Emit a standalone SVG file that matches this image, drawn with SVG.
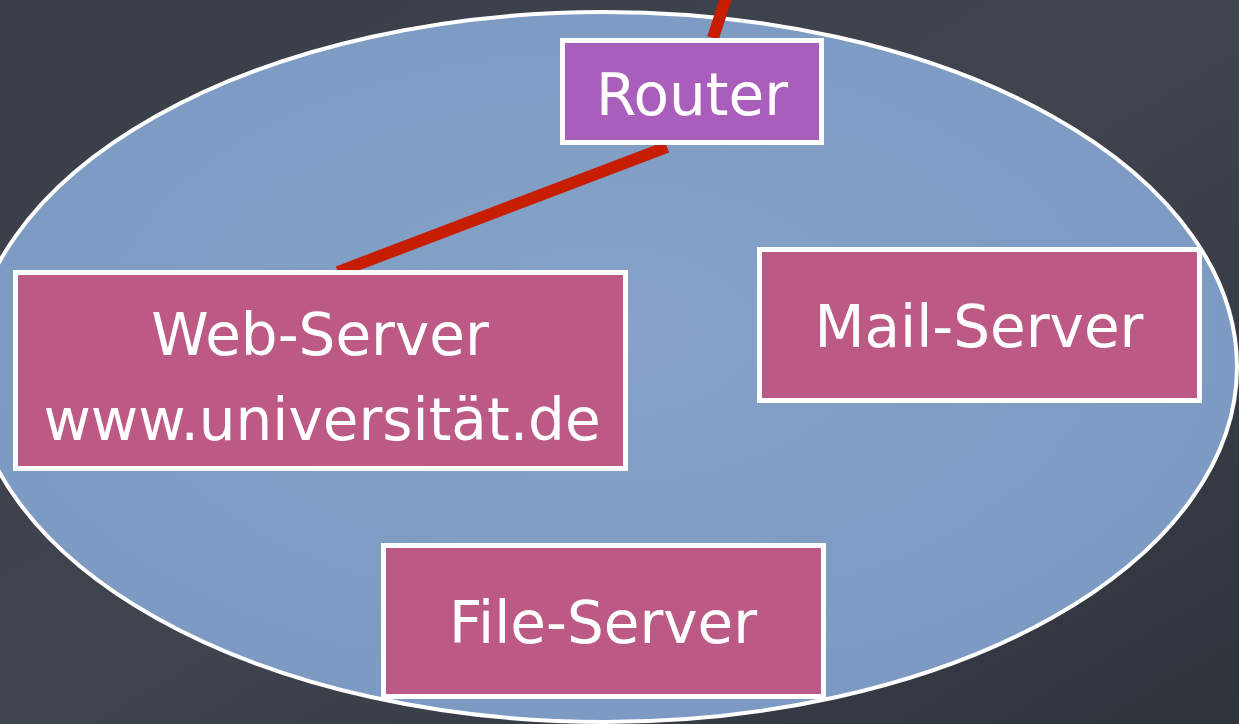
<svg xmlns="http://www.w3.org/2000/svg" width="1239" height="724" viewBox="0 0 1239 724">
<defs>
<linearGradient id="bg" x1="0" y1="0" x2="1" y2="1">
<stop offset="0" stop-color="#3a3e49"/>
<stop offset="0.5" stop-color="#40444f"/>
<stop offset="1" stop-color="#2f333c"/>
</linearGradient>
<radialGradient id="ell" cx="0.5" cy="0.45" r="0.6">
<stop offset="0" stop-color="#86a2c8"/>
<stop offset="1" stop-color="#7b99c2"/>
</radialGradient>
<style>
.box{stroke:#ffffff;stroke-width:5}
.srv{fill:#bc5a85}
.rt{fill:#aa5ebb}
.lbl{font-family:"DejaVu Sans","Liberation Sans",sans-serif;font-size:58px;fill:#ffffff;text-anchor:middle}
.link{stroke:#c71d00;stroke-width:12;fill:none}
</style>
</defs>
<rect x="0" y="0" width="1239" height="724" fill="url(#bg)"/>
<ellipse id="network" cx="604" cy="367" rx="633" ry="355" fill="url(#ell)" stroke="#ffffff" stroke-width="4"/>
<g id="connectors">
<line class="link" x1="726" y1="-2" x2="713" y2="38"/>
<line class="link" x1="667" y1="147" x2="338" y2="272"/>
</g>
<g id="router">
<rect class="box rt" x="562.5" y="40.5" width="259" height="102"/>
<text class="lbl" x="692" y="115">Router</text>
</g>
<g id="web-server">
<rect class="box srv" x="15.5" y="272.5" width="610" height="196"/>
<text class="lbl" x="320" y="355">Web-Server</text>
<text class="lbl" x="322" y="440">www.universität.de</text>
</g>
<g id="mail-server">
<rect class="box srv" x="759.5" y="249.5" width="440" height="151"/>
<text class="lbl" x="979" y="347">Mail-Server</text>
</g>
<g id="file-server">
<rect class="box srv" x="383.5" y="545.5" width="440" height="151"/>
<text class="lbl" x="603" y="643">File-Server</text>
</g>
</svg>
